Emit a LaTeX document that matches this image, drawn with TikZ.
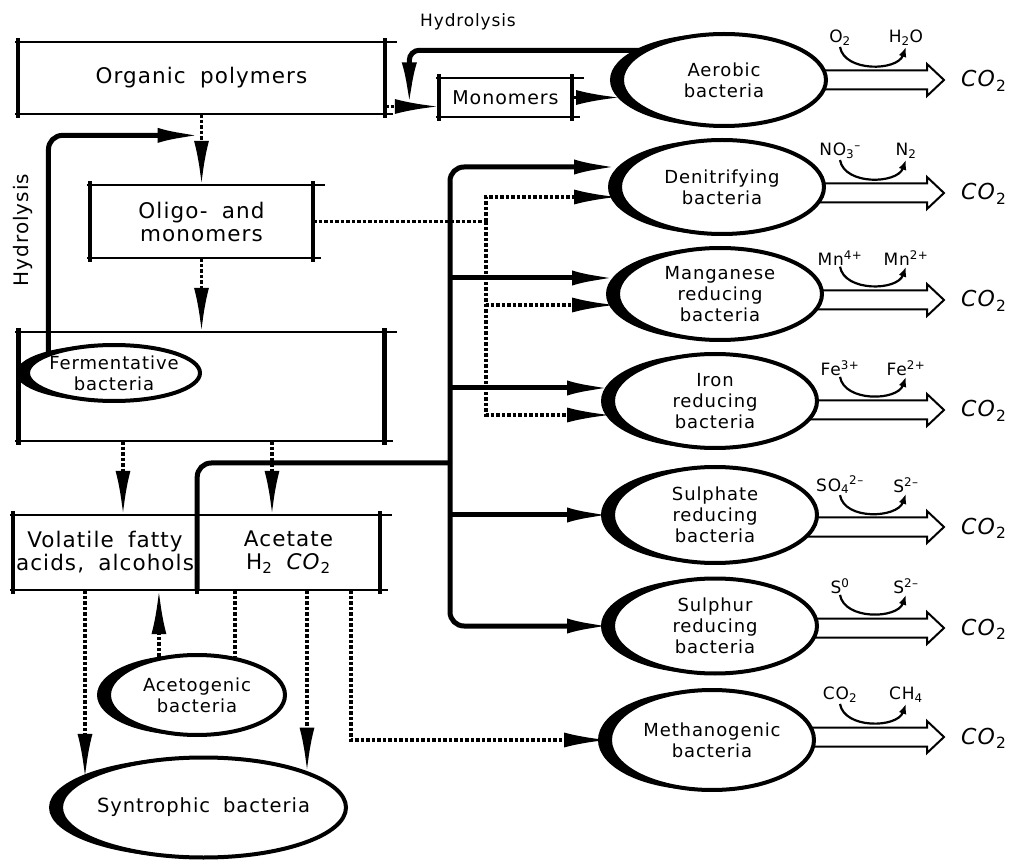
\documentclass[tikz,border=0pt]{standalone}
\usepackage{fontspec}
\setmainfont{DejaVu Sans}[LetterSpace=5,WordSpace=1.8]
\usetikzlibrary{arrows.meta,positioning,shapes.geometric,shadows,calc,backgrounds}

\begin{document}
\begin{tikzpicture}[x=1pt,y=-1pt]
  \tikzstyle{box}=[rectangle, inner sep=0pt, align=center, font=\fontsize{21.5}{23}\selectfont]
  \tikzstyle{hrule}=[line width=1.5pt]
  \tikzstyle{vbar}=[line width=4.5pt]
  \tikzstyle{bact}=[ellipse, draw, line width=4pt, fill=white, inner sep=-16pt, align=center,
                    font=\fontsize{18}{21}\selectfont, general shadow={fill=black, shadow xshift=-12pt}]
  \tikzstyle{feed}=[line width=5pt, -{Latex[length=44pt,width=15pt]}]
  \tikzstyle{flow}=[line width=3.5pt, dash pattern=on 3.5pt off 2pt]
  \tikzstyle{flowto}=[flow, -{Latex[length=44pt,width=15pt]}]
  \tikzstyle{outlet}=[line width=2pt, fill=white]
  \tikzstyle{react}=[line width=2.2pt, -{Latex[length=10pt,width=8pt]}]
  \tikzstyle{lbl}=[font=\fontsize{17}{19}\selectfont, inner sep=1pt]
  \tikzstyle{co2}=[font=\fontsize{22}{24}\selectfont, inner sep=0pt, anchor=base west]

  \useasboundingbox (0,0) rectangle (1010,866);

  \node[box, minimum width=367pt, minimum height=72pt] (org)   at (201.5,78)    {Organic polymers};
  \node[box, minimum width=133pt, minimum height=39pt, font=\fontsize{19}{21}\selectfont] (mono) at (505.5,97.5) {Monomers};
  \node[box, minimum width=223pt, minimum height=73pt] (oligo) at (201.5,221.5) {Oligo- and\\monomers};
  \node[box, minimum width=366pt, minimum height=109pt] (fbox) at (201.5,386.5) {};
  \node[box, minimum width=184pt, minimum height=75pt] (vfa)   at (105,552.5)   {Volatile fatty\\acids, alcohols};
  \node[box, minimum width=183pt, minimum height=75pt] (acet)  at (288.5,552.5) {Acetate\\H\textsubscript{2} \textit{CO}\textsubscript{2}};

  \foreach \b in {org,mono,oligo,fbox,vfa,acet} {
    \draw[hrule] ([xshift=-3pt]\b.north west) -- ([xshift=12pt]\b.north east);
    \draw[hrule] ([xshift=-3pt]\b.south west) -- ([xshift=8pt]\b.south east);
    \draw[vbar] ([yshift=4pt]\b.north west) -- ([yshift=-4pt]\b.south west);
    \draw[vbar] ([yshift=4pt]\b.north east) -- ([yshift=-4pt]\b.south east);
  }

  \node[bact, minimum width=204pt, minimum height=92pt]  (aer) at (724,80)  {Aerobic\\bacteria};
  \node[bact, minimum width=204pt, minimum height=94pt]  (den) at (722,187) {Denitrifying\\bacteria};
  \node[bact, minimum width=204pt, minimum height=92pt]  (man) at (720,294) {Manganese\\reducing\\bacteria};
  \node[bact, minimum width=204pt, minimum height=94pt]  (iro) at (715,401) {Iron\\reducing\\bacteria};
  \node[bact, minimum width=204pt, minimum height=96pt]  (sph) at (715,515) {Sulphate\\reducing\\bacteria};
  \node[bact, minimum width=204pt, minimum height=95pt]  (spr) at (715,626) {Sulphur\\reducing\\bacteria};
  \node[bact, minimum width=204pt, minimum height=100pt] (met) at (712,740) {Methanogenic\\bacteria};
  \node[bact, minimum width=172pt, minimum height=56pt]  (ferm)  at (114,373)     {Fermentative\\bacteria};
  \node[bact, minimum width=176pt, minimum height=80pt]  (aceto) at (197,695)     {Acetogenic\\bacteria};
  \node[bact, minimum width=285pt, minimum height=100pt, font=\fontsize{19.5}{21}\selectfont] (synt) at (203.5,807.5) {Syntrophic bacteria};

  \coordinate (om) at ([yshift=-9pt]mono.west);
  \coordinate (h1) at ($(org.east |- om)!0.45!(om)$);
  \draw[flowto] (org.east |- om) -- (om);
  \draw[flowto] (mono.east) -- ([yshift=-17.5pt]aer.west);
  \draw[feed, rounded corners=10pt] (aer.160) -| (h1);
  \node[font=\fontsize{17}{19}\selectfont] (hyd1) at (468,22) {Hydrolysis};

  \coordinate (h2) at ($(org.south)!0.3!(oligo.north)$);
  \draw[flowto] (org.south) -- (oligo.north);
  \draw[flowto] (oligo.south) -- (fbox.north);
  \draw[feed, rounded corners=14pt] (ferm.163) |- (h2);
  \node[font=\fontsize{20}{22}\selectfont, rotate=90] (hyd2) at (23,230) {Hydrolysis};

  \coordinate (vin) at ([xshift=18pt]vfa.north);
  \coordinate (ain) at ([xshift=-16.5pt]acet.north);
  \draw[flowto] (vin |- fbox.south) -- (vin);
  \draw[flowto] (ain |- fbox.south) -- (ain);

  \coordinate (dv) at (486,0);
  \coordinate (dnd) at ([yshift=-10pt]den.west);
  \coordinate (mnd) at ([yshift=-11pt]man.west);
  \coordinate (fed) at ([yshift=-14pt]iro.west);
  \draw[flow] (oligo.east) -- (oligo.east -| dv);
  \draw[flowto] (oligo.east -| dv) |- (dnd);
  \draw[flowto] (oligo.east -| dv) |- (mnd);
  \draw[flowto] (oligo.east -| dv) |- (fed);

  \coordinate (junc) at (450,463);
  \coordinate (dnf) at ([yshift=20pt]den.west);
  \coordinate (mnf) at ([yshift=16pt]man.west);
  \coordinate (fef) at ([yshift=13pt]iro.west);
  \draw[line width=5pt, rounded corners=14pt] (vfa.south east) |- (junc);
  \draw[feed, rounded corners=14pt] (junc) |- (dnf);
  \draw[feed, rounded corners=14pt] (junc) |- (spr.west);
  \draw[feed] (junc |- mnf) -- (mnf);
  \draw[feed] (junc |- fef) -- (fef);
  \draw[feed] (junc |- sph.west) -- (sph.west);

  \coordinate (vout) at ([xshift=-20pt]vfa.south);
  \coordinate (sout) at ([xshift=18.5pt]acet.south);
  \coordinate (mout) at ([xshift=62.5pt]acet.south);
  \draw[flowto] (vout) -- (vout |- synt.166);
  \draw[flowto] (aceto.135) -- (aceto.135 |- vfa.south);
  \draw[flow] (aceto.45 |- acet.south) -- (aceto.45);
  \draw[flowto] (sout) -- (sout |- synt.19);
  \draw[flowto] (mout) |- (met.west);

  \begin{scope}[on background layer]
    \foreach \ya in {80,193,300,410,527,628,737}
      \draw[outlet] (790,\ya-9.5) -- (927,\ya-9.5) -- (927,\ya-16) -- (944,\ya)
                    -- (927,\ya+16) -- (927,\ya+9.5) -- (790,\ya+9.5) -- cycle;
  \end{scope}

  \foreach \n/\ya/\a/\b in {aer/80/{O\textsubscript{2}}/{H\textsubscript{2}O},
                            den/193/{NO\textsubscript{3}\textsuperscript{--}}/{N\textsubscript{2}},
                            man/300/{Mn\textsuperscript{4+}}/{Mn\textsuperscript{2+}},
                            iro/410/{Fe\textsuperscript{3+}}/{Fe\textsuperscript{2+}},
                            sph/527/{SO\textsubscript{4}\textsuperscript{2--}}/{S\textsuperscript{2--}},
                            spr/628/{S\textsuperscript{0}}/{S\textsuperscript{2--}},
                            met/737/{CO\textsubscript{2}}/{CH\textsubscript{4}}} {
    \node[lbl] (\n-in)  at (840,\ya-42) {\a};
    \node[lbl] (\n-out) at (906,\ya-42) {\b};
    \draw[react] (\n-in.south) to[out=-80,in=-110] (\n-out.south);
    \node[co2] (\n-co) at (961,\ya+7) {\textit{CO}\textsubscript{2}};
  }
\end{tikzpicture}
\end{document}
